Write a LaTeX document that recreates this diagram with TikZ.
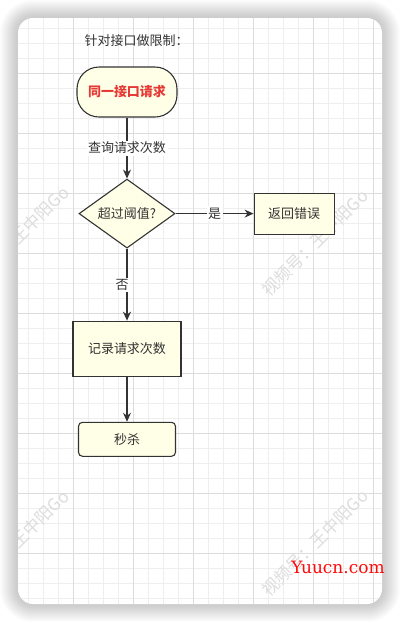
\documentclass[tikz,border=0pt]{standalone}
\usepackage{fontspec}
\setmainfont{Noto Sans CJK SC}
\newfontfamily\siteserif{DejaVu Serif}
\usepackage{xcolor}
\usetikzlibrary{shapes.geometric, arrows.meta, positioning}

\definecolor{nodefill}{HTML}{FFFFE8}
\definecolor{inkgray}{HTML}{333333}
\definecolor{gridminor}{HTML}{EEEEEE}
\definecolor{gridmajor}{HTML}{DCDCDC}
\definecolor{starred}{HTML}{E53935}
\definecolor{markgray}{HTML}{DDDDDD}
\definecolor{sitered}{HTML}{FF0A0A}

\begin{document}
\begin{tikzpicture}[x=1pt, y=-1pt, node distance=40pt,
    box/.style={rectangle, draw=inkgray, fill=nodefill, line width=1.1pt, text=inkgray, font=\fontsize{13}{15}\selectfont, inner sep=0pt},
    terminal/.style={box, rounded corners=22pt, minimum width=100pt, minimum height=50pt},
    decision/.style={box, diamond, aspect=1.4, minimum width=96pt, minimum height=69pt},
    edgelabel/.style={fill=white, text=inkgray, font=\fontsize{13}{15}\selectfont, inner sep=1.5pt},
    arrow/.style={-{Stealth[length=9pt, width=8pt]}, line width=1.2pt, draw=inkgray},
    watermark/.style={text=markgray, font=\fontsize{17}{19}\selectfont, rotate=45, inner sep=0pt}]

    \useasboundingbox (0,0) rectangle (400,622);

    % card with soft shadow
    \foreach \s [evaluate=\s as \r using 15+\s] in {1,...,18}
        \fill[black, opacity=0.010, rounded corners=\r pt] (18-\s,18-\s) rectangle (382+\s,604+\s);
    \fill[white, rounded corners=15pt] (18,18) rectangle (382,604);

    \begin{scope}
        \clip[rounded corners=15pt] (18,18) rectangle (382,604);
        \foreach \gx in {28,43,...,373} \draw[gridminor, line width=0.8pt] (\gx,18) -- (\gx,604);
        \foreach \gy in {28,43,...,598} \draw[gridminor, line width=0.8pt] (18,\gy) -- (382,\gy);
        \foreach \gx in {73,133,...,373} \draw[gridmajor, line width=0.8pt] (\gx,18) -- (\gx,604);
        \foreach \gy in {73,133,...,553} \draw[gridmajor, line width=0.8pt] (18,\gy) -- (382,\gy);
        % watermarks
        \node (wmA) [watermark] at (40,215) {王中阳Go};
        \node (wmB) [watermark] at (315,243) {视频号：王中阳Go};
        \node (wmC) [watermark] at (40,519) {王中阳Go};
        \node (wmD) [watermark] at (315,543) {视频号：王中阳Go};
    \end{scope}

    \node (title) [anchor=west, text=inkgray, font=\fontsize{13}{15}\selectfont] at (81,41) {针对接口做限制：};

    \node (request) [terminal, text=starred, font=\fontsize{13}{15}\selectfont\bfseries] at (127,92) {同一接口请求};

    \node (check) [decision, below=61pt of request] {超过阈值?};

    \node (reject) [box, minimum width=80pt, minimum height=41pt, right=78pt of check] {返回错误};

    \node (record) [box, minimum width=108pt, minimum height=55pt, below=72pt of check] {记录请求次数};

    \node (seckill) [box, rounded corners=4pt, minimum width=97pt, minimum height=34pt, below=45pt of record] {秒杀};

    \node (site) [text=sitered, font=\siteserif\fontsize{17}{19}\selectfont] at (338,567) {Yuucn.com};

    \draw [arrow] (request) -- node[edgelabel] {查询请求次数} (check);
    \draw [arrow] (check) -- node[edgelabel] {是} (reject);
    \draw [arrow] (check) -- node[edgelabel, xshift=-5pt] {否} (record);
    \draw [arrow] (record) -- (seckill);

\end{tikzpicture}
\end{document}
